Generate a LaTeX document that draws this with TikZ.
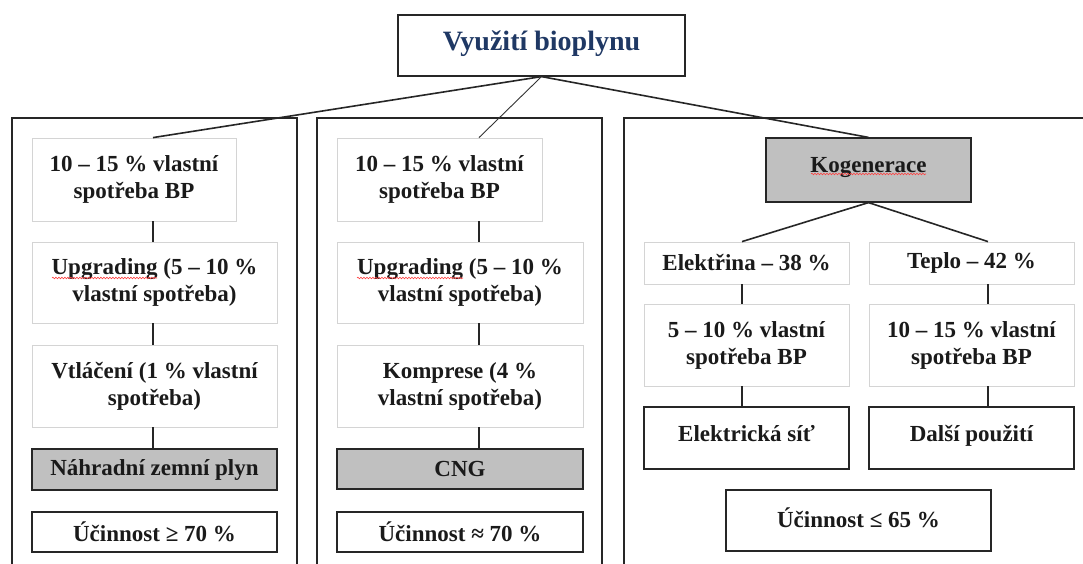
\documentclass[tikz,border=0pt]{standalone}
\usepackage{fontspec}
\setmainfont{Liberation Serif}
\usetikzlibrary{decorations.pathmorphing}
\definecolor{navy}{HTML}{1F3864}
\definecolor{txt}{HTML}{1A1A1A}
\definecolor{lightedge}{HTML}{D4D4D4}
\definecolor{boxgray}{HTML}{C0C0C0}
\tikzset{
  base/.style={rectangle, inner sep=0pt, align=center, text=txt,
    font=\fontsize{23}{27}\selectfont\bfseries},
  lbox/.style={base, draw=lightedge, line width=0.8pt, fill=white},
  dbox/.style={base, draw=black!85, line width=1.2pt, fill=white},
  gbox/.style={base, draw=black!85, line width=1.2pt, fill=boxgray},
  panel/.style={draw=black!85, line width=1.4pt},
  thick link/.style={draw=black!85, line width=1.6pt},
  thin link/.style={draw=black!80, line width=0.9pt},
  vlink/.style={draw=black!85, line width=1.1pt},
  squiggle/.style={draw=red!75!white, line width=0.6pt,
    decorate, decoration={snake, segment length=3pt, amplitude=0.8pt}},
  sz/.style 2 args={minimum width=#1pt, minimum height=#2pt}
}
\begin{document}
\begin{tikzpicture}[x=1pt,y=-1pt]
\useasboundingbox (0,0) rectangle (1083,564);
\clip (0,0) rectangle (1083,564);
\fill[white] (0,0) rectangle (1083,564);

% panels
\draw[panel] (12,118) rectangle (297,600);
\draw[panel] (317,118) rectangle (602,600);
\draw[panel] (624,118) rectangle (1100,600);

% title
\node[dbox, sz={287}{61}, text=navy, font=\fontsize{28}{32}\selectfont\bfseries] (top) at (541.5,45.5) {Využití bioplynu\rule[-9pt]{0pt}{0pt}};

% column coordinates
\coordinate (cL) at (153,0);
\coordinate (cM) at (479,0);
\coordinate (cE) at (742,0);
\coordinate (cT) at (988,0);

% left panel
\node[lbox, sz={204}{83}] (L1) at (134,179.5) {10 – 15 \% vlastní\\spotřeba BP};
\node[lbox, sz={245}{81}] (L2) at (154.5,282.5) {Upgrading (5 – 10 \%\\vlastní spotřeba)};
\node[lbox, sz={245}{82}] (L3) at (154.5,386) {Vtláčení (1 \% vlastní\\spotřeba)};
\node[gbox, sz={245}{41}] (L4) at (154.5,469.5) {Náhradní zemní plyn};
\node[dbox, sz={245}{40}] (L5) at (154.5,532) {Účinnost ≥ 70 \%};

% middle panel
\node[lbox, sz={205}{83}] (M1) at (439.5,179.5) {10 – 15 \% vlastní\\spotřeba BP};
\node[lbox, sz={246}{81}] (M2) at (460,282.5) {Upgrading (5 – 10 \%\\vlastní spotřeba)};
\node[lbox, sz={246}{82}] (M3) at (460,386) {Komprese (4 \%\\vlastní spotřeba)};
\node[gbox, sz={246}{40}] (M4) at (460,469) {CNG};
\node[dbox, sz={246}{40}] (M5) at (460,532) {Účinnost ≈ 70 \%};

% right panel
\node[gbox, sz={205}{64}] (K) at (868.5,170) {Kogenerace\rule[-11pt]{0pt}{0pt}};
\node[lbox, sz={205}{42}] (E1) at (746.5,263) {Elektřina – 38 \%};
\node[lbox, sz={205}{42}] (T1) at (971.5,263) {Teplo – 42 \%};
\node[lbox, sz={205}{82}] (E2) at (746.5,345) {5 – 10 \% vlastní\\spotřeba BP};
\node[lbox, sz={205}{82}] (T2) at (971.5,345) {10 – 15 \% vlastní\\spotřeba BP};
\node[dbox, sz={205}{62}] (E3) at (746.5,438) {Elektrická síť\rule[-10pt]{0pt}{0pt}};
\node[dbox, sz={205}{62}] (T3) at (971.5,438) {Další použití\rule[-10pt]{0pt}{0pt}};
\node[dbox, sz={265}{61}] (R) at (858.5,520.5) {Účinnost ≤ 65 \%\rule[-6pt]{0pt}{0pt}};

% spell-check squiggles
\draw[squiggle] (52,278) -- (157,278);
\draw[squiggle] (357,278) -- (463,278);
\draw[squiggle] (811,174) -- (926,174);

% connectors from title
\draw[thick link] (top.south) -- (L1.north -| cL);
\draw[thin link] (top.south) -- (M1.north -| cM);
\draw[thick link] (top.south) -- (K.north);

% left column
\draw[vlink] (L1.south -| cL) -- (L2.north -| cL);
\draw[vlink] (L2.south -| cL) -- (L3.north -| cL);
\draw[vlink] (L3.south -| cL) -- (L4.north -| cL);

% middle column
\draw[vlink] (M1.south -| cM) -- (M2.north -| cM);
\draw[vlink] (M2.south -| cM) -- (M3.north -| cM);
\draw[vlink] (M3.south -| cM) -- (M4.north -| cM);

% right columns
\draw[thick link] (K.south) -- (E1.north -| cE);
\draw[thick link] (K.south) -- (T1.north -| cT);
\draw[vlink] (E1.south -| cE) -- (E2.north -| cE);
\draw[vlink] (E2.south -| cE) -- (E3.north -| cE);
\draw[vlink] (T1.south -| cT) -- (T2.north -| cT);
\draw[vlink] (T2.south -| cT) -- (T3.north -| cT);
\end{tikzpicture}
\end{document}
